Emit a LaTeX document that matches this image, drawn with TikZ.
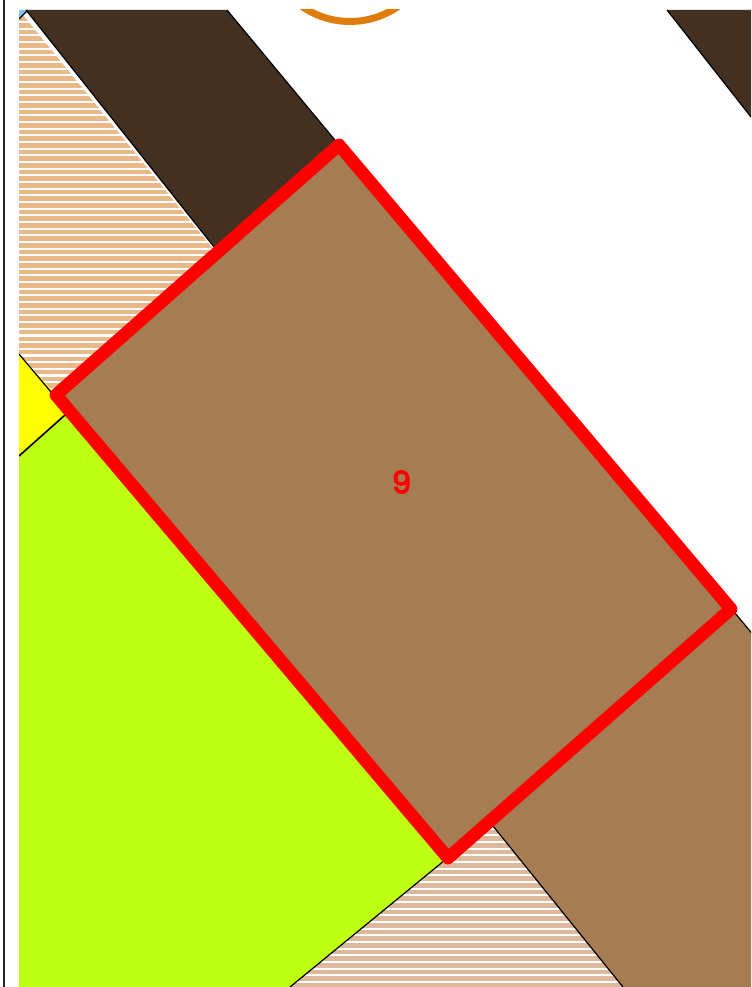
\documentclass[tikz,border=0pt]{standalone}
\usepackage{fontspec}
\setmainfont{Poppins}
\newfontfamily\ninefont[FakeBold=4]{Poppins}
\definecolor{darkb}{HTML}{433020}
\definecolor{midb}{HTML}{A67C52}
\definecolor{lime}{HTML}{BFFF14}
\definecolor{yel}{HTML}{FFFF00}
\definecolor{redl}{HTML}{FF0000}
\definecolor{hatchA}{HTML}{E9B98A}
\definecolor{hatchB}{HTML}{DDB89A}
\definecolor{sky}{HTML}{7FC4F0}
\definecolor{orng}{HTML}{E07C0C}
\tikzset{edge/.style={draw=black,line width=0.9pt},
 redbox/.style={draw=redl,line width=9.6pt,line join=round,fill=midb}}
\begin{document}
\begin{tikzpicture}[x=0.75pt,y=-0.75pt]
\useasboundingbox (0,0) rectangle (751,987);
\fill[white] (0,0) rectangle (751,987);
\draw[black!85,line width=1.1pt] (4,0) -- (4,987);
\begin{scope}
\clip (19,10) rectangle (751,987);
\begin{scope}
\clip (19,10) -- (214,250) -- (56,395) -- (19,354) -- cycle;
\foreach \y in {0,...,60} {\fill[hatchA] (19,{3+6.67*\y}) rectangle (300,{3+6.67*\y+4.6});}
\end{scope}
\begin{scope}
\clip (448,858) -- (290,987) -- (623,987) -- (490,822) -- cycle;
\foreach \y in {0,...,26} {\fill[hatchB] (280,{823+6.67*\y}) rectangle (640,{823+6.67*\y+4.6});}
\end{scope}
\fill[sky] (19,10) -- (28,10) -- (19,19) -- cycle;
\draw[edge] (19,19) -- (28,10);
\fill[darkb] (26,10) -- (214,247) -- (339,145) -- (227,10) -- cycle;
\draw[edge] (26,10) -- (214,247) (339,145) -- (227,10);
\fill[darkb] (667,10) -- (751,117) -- (760,10) -- cycle;
\draw[edge] (667,10) -- (751,117);
\fill[midb] (493,826) -- (623,987) -- (760,987) -- (760,643) -- (735,613) -- cycle;
\draw[edge] (493,826) -- (623,987) (760,643) -- (735,613);
\fill[yel] (19,354) -- (56,395) -- (65,415) -- (19,456) -- cycle;
\draw[edge] (19,354) -- (56,398);
\fill[lime] (19,456) -- (65,415) -- (445,860) -- (290,987) -- (19,987) -- cycle;
\draw[black,line width=1.2pt] (19,456) -- (65,415);
\draw[edge] (445,860) -- (290,987);
\draw[orng,line width=5.25pt] (350,-62.5) circle[radius=84];
\filldraw[redbox] (339,145) -- (731,609) -- (448,858) -- (56,395) -- cycle;
\node[text=redl,font=\ninefont\fontsize{23}{23}\selectfont,inner sep=0pt] (nine) at (401.5,482) {9};
\end{scope}
\end{tikzpicture}
\end{document}
